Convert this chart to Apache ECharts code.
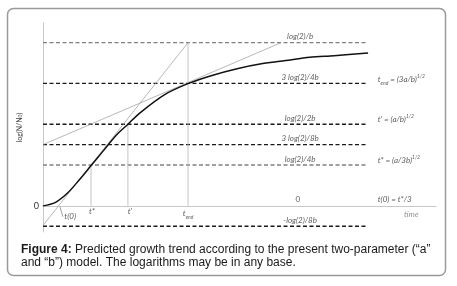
<!DOCTYPE html>
<html>
<head>
<meta charset="utf-8">
<script src="https://cdn.jsdelivr.net/npm/echarts@6/dist/echarts.min.js"></script>
<style>
  html, body { margin: 0; padding: 0; background: #fff; }
  #fig { width: 457px; height: 286px; }
</style>
</head>
<body>
<div id="fig"></div>
<script>
// time in units of t*, log(N/N0) in units of log(2)/b
var curveT = [0, 0.25, 0.5, 0.75, 1.0, 1.25, 1.5, 1.75, 2.0, 2.5, 3.0, 3.5, 4.0, 4.5, 5.0, 5.5, 6.0, 6.7];
var curveY = [0, 0.02, 0.077, 0.16, 0.25, 0.34, 0.43, 0.5, 0.57, 0.68, 0.75, 0.8, 0.84, 0.87, 0.89, 0.91, 0.92, 0.937];

var levelY = [1, 0.75, 0.5, 0.375, 0.25, -0.125];
var levelText = ['log(2)/b', '3 log(2)/4b', 'log(2)/2b', '3 log(2)/8b', 'log(2)/4b', '-log(2)/8b'];
var levelEnd = 6.66;

var steepTangent = [[0, -0.12], [2.99, 1.0]];
var shallowTangent = [[0, 0.375], [4.91, 1.0]];

var markT = [0.99, 1.75, 2.99];   // t*, t', t_end
var markTop = [0.25, 0.5, 1.0];

var tickText = ['{i|t(0)}', '{i|t*}', "{i|t'}", '{i|t}{sub|end}'];
var tickX = [0.56, 1.01, 1.79, 2.99];
var tickY = [-0.067, -0.037, -0.037, -0.049];

var noteText = ['{i|t}{sub|end}{i| = (3a/b)}{sup|1/2}', "{i|t' = (a/b)}{sup|1/2}", '{i|t* = (a/3b)}{sup|1/2}', '{i|t(0) = t*/3}'];
var noteY = [0.773, 0.528, 0.276, 0.037];

var chart = echarts.init(document.getElementById('fig'));

var italic = { fontFamily: 'Lato', fontStyle: 'italic', fontSize: 8, color: '#333' };
var rich = {
  i: { fontFamily: 'Lato', fontStyle: 'italic', fontSize: 8, color: '#333', lineHeight: 12 },
  sub: { fontFamily: 'Lato', fontStyle: 'italic', fontSize: 5, color: '#333', lineHeight: 12, verticalAlign: 'bottom', padding: [3, 0, 0, 0] },
  sup: { fontFamily: 'Lato', fontStyle: 'italic', fontSize: 5, color: '#333', lineHeight: 12, verticalAlign: 'top', padding: [0, 0, 4, 0] }
};

var series = [];

// dashed levels
levelY.forEach(function (y, k) {
  var grey = (y === 1 || y === 0.25);
  series.push({
    type: 'line', symbol: 'none', silent: true,
    data: [[0, y], [levelEnd, y]],
    lineStyle: { color: grey ? '#808080' : '#1a1a1a', width: 1.4, type: [4, 2.5] }
  });
});

// verticals at t*, t', t_end
markT.forEach(function (t, k) {
  series.push({
    type: 'line', symbol: 'none', silent: true,
    data: [[t, 0], [t, markTop[k]]],
    lineStyle: { color: '#b5b5b5', width: 0.8 }
  });
});

// tangents
[steepTangent, shallowTangent].forEach(function (d) {
  series.push({
    type: 'line', symbol: 'none', silent: true, data: d,
    lineStyle: { color: '#9a9a9a', width: 0.7 }
  });
});

// pointer to t(0)
series.push({
  type: 'line', symbol: 'none', silent: true,
  data: [[0.35, -0.006], [0.41, -0.067]],
  lineStyle: { color: '#777', width: 0.7 }
});

// growth curve
series.push({
  type: 'line', symbol: 'none', smooth: 0.3, silent: true,
  data: curveT.map(function (t, k) { return [t, curveY[k]]; }),
  lineStyle: { color: '#111', width: 1.5 }
});

// level labels
series.push({
  type: 'scatter', symbolSize: 0, silent: true, clip: false,
  data: levelY.map(function (y, k) { return { value: [5.3, y], name: levelText[k] }; })
    .concat([{ value: [5.25, 0], name: '0', label: { fontStyle: 'normal' } }]),
  label: Object.assign({ show: true, position: 'top', distance: 2, formatter: '{b}' }, italic)
});

// tick labels under the time axis
series.push({
  type: 'scatter', symbolSize: 0, silent: true, clip: false,
  data: tickX.map(function (x, k) { return { value: [x, tickY[k]], name: tickText[k] }; }),
  label: { show: true, position: 'inside', formatter: '{b}', rich: rich }
});

// parameter notes on the right
series.push({
  type: 'scatter', symbolSize: 0, silent: true, clip: false,
  data: noteY.map(function (y, k) { return { value: [6.9, y], name: noteText[k] }; }),
  label: { show: true, position: 'right', distance: 0, formatter: '{b}', rich: rich }
});

series.push({
  type: 'scatter', symbolSize: 0, silent: true, clip: false,
  data: [{ value: [7.59, -0.055], name: 'time' }],
  label: { show: true, position: 'inside', formatter: '{b}', fontFamily: 'Lato', fontStyle: 'italic', fontSize: 8, color: '#777' }
});

var option = {
  animation: false,
  grid: { left: 43, right: 21, top: 23, bottom: 54 },
  xAxis: {
    type: 'value', min: 0, max: 8.1,
    axisLine: { onZero: true, lineStyle: { color: '#c8c8c8', width: 1 } },
    axisTick: { show: false }, axisLabel: { show: false }, splitLine: { show: false }
  },
  yAxis: {
    type: 'value', min: -0.16, max: 1.12, interval: 0.16,
    axisLine: { show: true, lineStyle: { color: '#c8c8c8', width: 1 } },
    axisTick: { show: false }, splitLine: { show: false },
    axisLabel: {
      margin: 4, fontFamily: 'Lato', fontSize: 9, color: '#333',
      formatter: function (v) { return Math.abs(v) < 1e-9 ? '0' : ''; }
    },
    name: '{n|log(N/N}{s|0}{n|)}', nameLocation: 'middle', nameGap: 17, nameRotate: 90,
    nameTextStyle: {
      rich: {
        n: { fontFamily: 'Lato', fontSize: 7, color: '#444' },
        s: { fontFamily: 'Lato', fontSize: 5, color: '#444', verticalAlign: 'bottom' }
      }
    }
  },
  graphic: [
    {
      type: 'rect', z: -1,
      shape: { x: 7.5, y: 8.5, width: 438, height: 267, r: 6 },
      style: { fill: 'none', stroke: '#9a9a9a', lineWidth: 1.5 }
    },
    {
      type: 'text', left: 21, top: 243,
      style: {
        text: '{b|Figure 4:} Predicted growth trend according to the present two-parameter (\u201ca\u201d\nand \u201cb\u201d) model. The logarithms may be in any base.',
        fontFamily: 'Liberation Sans', fontSize: 12, lineHeight: 13, fill: '#1a1a1a',
        rich: { b: { fontFamily: 'Liberation Sans', fontSize: 12, fontWeight: 'bold', fill: '#1a1a1a' } }
      }
    }
  ],
  series: series
};

chart.setOption(option);
</script>
</body>
</html>
